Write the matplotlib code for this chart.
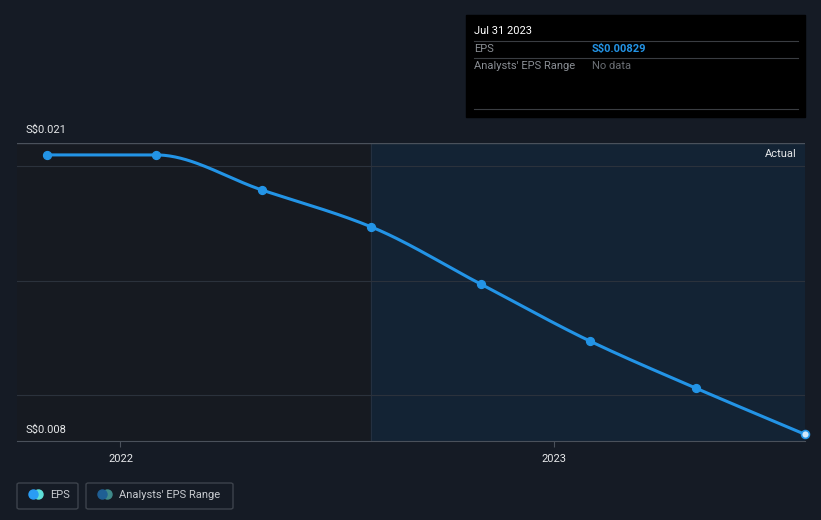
import numpy as np
import pandas as pd
import matplotlib
matplotlib.use('Agg')
import matplotlib.pyplot as plt
from matplotlib.patches import Rectangle, FancyBboxPatch
import matplotlib.dates as mdates

plt.rcParams['font.family'] = ['Roboto', 'DejaVu Sans']

# data
dates = pd.to_datetime(['2021-10-31', '2022-01-31', '2022-04-30', '2022-07-31',
                        '2022-10-31', '2023-01-31', '2023-04-30', '2023-07-31'])
eps = [0.02048, 0.02048, 0.01895, 0.01734, 0.01485, 0.01236, 0.01031, 0.00829]
ytick_labels = ['S$0.021', 'S$0.008']
grid_vals = [0.010, 0.015, 0.020]

bg = '#151b25'
blue = '#2394e6'


def monotone(x, y, n=40):
    # Fritsch-Carlson monotone cubic, only for drawing the smooth line
    x = np.asarray(x, float)
    y = np.asarray(y, float)
    h = np.diff(x)
    d = np.diff(y) / h
    m = np.zeros_like(y)
    m[0], m[-1] = d[0], d[-1]
    for i in range(1, len(y) - 1):
        if d[i - 1] * d[i] <= 0:
            m[i] = 0
        else:
            w1 = 2 * h[i] + h[i - 1]
            w2 = h[i] + 2 * h[i - 1]
            m[i] = (w1 + w2) / (w1 / d[i - 1] + w2 / d[i])
    xs, ys = [], []
    for i in range(len(h)):
        t = np.linspace(0, 1, n)
        h00 = 2 * t**3 - 3 * t**2 + 1
        h10 = t**3 - 2 * t**2 + t
        h01 = -2 * t**3 + 3 * t**2
        h11 = t**3 - t**2
        xs.append(x[i] + t * h[i])
        ys.append(h00 * y[i] + h10 * h[i] * m[i] + h01 * y[i + 1] + h11 * h[i] * m[i + 1])
    return np.concatenate(xs), np.concatenate(ys)


fig = plt.figure(figsize=(8.21, 5.2), dpi=100)
fig.patch.set_facecolor(bg)
ax = fig.add_axes([17 / 821, 1 - 441 / 520, 788 / 821, 298 / 520])
ax.set_facecolor('#161a21')

xnum = mdates.date2num(dates)
x_left = xnum[0] - (xnum[1] - xnum[0]) * 30 / 110
ax.set_xlim(x_left, xnum[-1])
ax.set_ylim(0.008, 0.021)

# shaded "actual" region after the split
ax.axvspan(xnum[3], xnum[-1], color='#132334', zorder=0)
ax.axvline(xnum[3], color='#243040', lw=0.8, zorder=1)

for g in grid_vals:
    ax.axhline(g, color='#2b323c', lw=0.8, zorder=1)
ax.axhline(0.021, color='#4a515b', lw=1.0, zorder=1)

sx, sy = monotone(xnum, eps)
ax.plot(sx, sy, color=blue, lw=2.2, zorder=3, solid_capstyle='round')
ax.scatter(xnum[:-1], eps[:-1], s=32, color=blue, zorder=4)
ax.scatter(xnum[-1:], eps[-1:], s=32, facecolor='#cfe8fb', edgecolor=blue, lw=1.2,
           zorder=5, clip_on=False)

for s in ['top', 'right', 'left']:
    ax.spines[s].set_visible(False)
ax.spines['bottom'].set_color('#4a515b')
ax.set_yticks([])
ticks = mdates.date2num(pd.to_datetime(['2022-01-01', '2023-01-01']))
ax.set_xticks(ticks)
ax.set_xticklabels(['2022', '2023'])
ax.tick_params(axis='x', colors='#4a515b', labelcolor='#e6e8ea', labelsize=8, length=4, pad=5)

fig.text(25 / 821, 1 - 130 / 520, ytick_labels[0], color='#e6e8ea', fontsize=8, va='center')
fig.text(25 / 821, 1 - 430 / 520, ytick_labels[1], color='#e6e8ea', fontsize=8, va='center')
fig.text(797 / 821, 1 - 154 / 520, 'Actual', color='#e6e8ea', fontsize=8, va='center', ha='right')

# tooltip box
fig.patches.append(Rectangle((466 / 821, 1 - 117 / 520), 339 / 821, 102 / 520,
                             transform=fig.transFigure, color='#000000', zorder=1))
for yy in [41, 58, 109]:
    fig.add_artist(plt.Line2D([474 / 821, 798 / 821], [1 - yy / 520] * 2,
                              transform=fig.transFigure, color='#3a3d42', lw=0.8))
fig.text(474 / 821, 1 - 31 / 520, 'Jul 31 2023', color='#ffffff', fontsize=8, va='center')
fig.text(474 / 821, 1 - 49 / 520, 'EPS', color='#8a8e94', fontsize=8, va='center')
fig.text(592 / 821, 1 - 49 / 520, 'S$0.00829', color=blue, fontsize=8, va='center',
         fontweight='bold')
fig.text(474 / 821, 1 - 66 / 520, "Analysts' EPS Range", color='#8a8e94', fontsize=8, va='center')
fig.text(592 / 821, 1 - 66 / 520, 'No data', color='#6a6e74', fontsize=8, va='center')

# legend boxes
for (x0, w, label, c1, c2) in [(17, 61, 'EPS', '#2a9df4', '#5ee0d8'),
                               (86, 147, "Analysts' EPS Range", '#1f5f94', '#3f8a8a')]:
    fig.patches.append(FancyBboxPatch((x0 / 821, 1 - 509 / 520), w / 821, 26 / 520,
                                      boxstyle='round,pad=0,rounding_size=0.003',
                                      transform=fig.transFigure, facecolor='none',
                                      edgecolor='#3d434c', lw=1))
    fig.add_artist(plt.Line2D([(x0 + 21) / 821], [1 - 494 / 520], marker='o', ms=6.5,
                              color=c2, transform=fig.transFigure, lw=0))
    fig.add_artist(plt.Line2D([(x0 + 16) / 821], [1 - 494 / 520], marker='o', ms=6.5,
                              color=c1, transform=fig.transFigure, lw=0))
    fig.text((x0 + 33) / 821, 1 - 495 / 520, label, color='#c8cbd0', fontsize=8, va='center')

fig.savefig('out.png', dpi=100, facecolor=bg)
